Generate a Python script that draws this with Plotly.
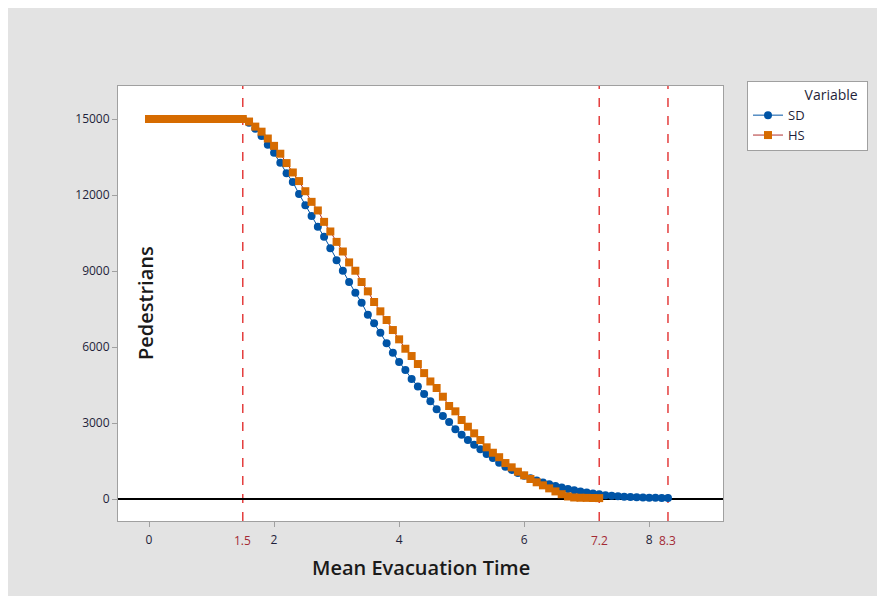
import plotly.graph_objects as go

# ---- data ----
times = [0.0, 0.1, 0.2, 0.3, 0.4, 0.5, 0.6, 0.7, 0.8, 0.9,
         1.0, 1.1, 1.2, 1.3, 1.4, 1.5, 1.6, 1.7, 1.8, 1.9,
         2.0, 2.1, 2.2, 2.3, 2.4, 2.5, 2.6, 2.7, 2.8, 2.9,
         3.0, 3.1, 3.2, 3.3, 3.4, 3.5, 3.6, 3.7, 3.8, 3.9,
         4.0, 4.1, 4.2, 4.3, 4.4, 4.5, 4.6, 4.7, 4.8, 4.9,
         5.0, 5.1, 5.2, 5.3, 5.4, 5.5, 5.6, 5.7, 5.8, 5.9,
         6.0, 6.1, 6.2, 6.3, 6.4, 6.5, 6.6, 6.7, 6.8, 6.9,
         7.0, 7.1, 7.2, 7.3, 7.4, 7.5, 7.6, 7.7, 7.8, 7.9,
         8.0, 8.1, 8.2, 8.3]

sd_values = [15000, 15000, 15000, 15000, 15000, 15000, 15000, 15000, 15000, 15000,
             15000, 15000, 15000, 15000, 15000, 15000, 14850, 14620, 14330, 13985,
             13669, 13274, 12855, 12512, 12038, 11592, 11170, 10748, 10353, 9900,
             9420, 9010, 8565, 8143, 7748, 7275, 6934, 6564, 6145, 5775,
             5407, 5092, 4735, 4445, 4144, 3856, 3540, 3276, 3039, 2751,
             2538, 2329, 2143, 1962, 1776, 1618, 1433, 1275, 1150, 1030,
             920, 820, 730, 650, 580, 510, 450, 395, 345, 300,
             260, 220, 185, 150, 125, 105, 90, 75, 65, 55,
             50, 45, 40, 35]

hs_values = [15000, 15000, 15000, 15000, 15000, 15000, 15000, 15000, 15000, 15000,
             15000, 15000, 15000, 15000, 15000, 15000, 14900, 14700, 14500, 14230,
             13940, 13630, 13260, 12890, 12550, 12150, 11730, 11390, 10940, 10560,
             10150, 9770, 9340, 9011, 8565, 8198, 7776, 7408, 7065, 6670,
             6303, 5932, 5644, 5328, 4970, 4640, 4381, 4038, 3671, 3461,
             3118, 2854, 2593, 2329, 2041, 1827, 1650, 1420, 1251, 1078,
             935, 790, 660, 540, 420, 300, 190, 100, 60, 50,
             45, 40, 35]
hs_times = times[:len(hs_values)]

x_ticks = [0, 2, 4, 6, 8]
x_tick_labels = ["0", "2", "4", "6", "8"]
y_ticks = [0, 3000, 6000, 9000, 12000, 15000]
y_tick_labels = ["0", "3000", "6000", "9000", "12000", "15000"]
ref_lines = [1.5, 7.2, 8.3]
ref_labels = ["1.5", "7.2", "8.3"]

# ---- layout constants (figure pixels; the page adds an 8px body margin) ----
W, H = 877, 588
L, R, T, B = 110, 715, 78, 513
pw, ph = R - L, B - T


def px_x(p):
    return (p - L) / pw


def px_y(p):
    return (B - p) / ph


FONT = "Open Sans"
TICK_COLOR = "#1f1f3a"
RED_LABEL = "#a32a35"

fig = go.Figure()
fig.add_trace(go.Scatter(
    x=times, y=sd_values, name="SD", mode="lines+markers",
    line=dict(color="#0054a6", width=1),
    marker=dict(symbol="circle", size=8, color="#0054a6"),
))
fig.add_trace(go.Scatter(
    x=hs_times, y=hs_values, name="HS", mode="lines+markers",
    line=dict(color="#b03030", width=1),
    marker=dict(symbol="square", size=8, color="#d66b00"),
))

shapes = []
for v in ref_lines:
    shapes.append(dict(type="line", xref="x", yref="paper", x0=v, x1=v, y0=0, y1=1,
                       line=dict(color="#e02020", width=1.3, dash="dash"), layer="below"))

annotations = []
for v, t in zip(ref_lines, ref_labels):
    annotations.append(dict(x=v, xref="x", y=px_y(532), yref="paper", text=t,
                            showarrow=False, yanchor="middle", xanchor="center",
                            font=dict(family=FONT, size=12, color=RED_LABEL)))
annotations.append(dict(x=0.5, xref="paper", y=px_y(559), yref="paper",
                        text="Mean Evacuation Time", showarrow=False,
                        xanchor="center", yanchor="middle",
                        font=dict(family=FONT, size=20, color="#1a1a1a", weight=600)))
annotations.append(dict(x=px_x(137), xref="paper", y=px_y(295), yref="paper",
                        text="Pedestrians", showarrow=False, textangle=-90,
                        xanchor="center", yanchor="middle",
                        font=dict(family=FONT, size=20, color="#1a1a1a", weight=600)))

axis_common = dict(showgrid=False, ticks="outside", ticklen=5, tickcolor="#a0a0a0",
                   showline=True, mirror=True, linecolor="#a0a0a0", linewidth=1,
                   tickfont=dict(family=FONT, size=12, color=TICK_COLOR))

fig.update_layout(
    width=W, height=H,
    margin=dict(l=L, r=W - R, t=T, b=H - B, autoexpand=False),
    paper_bgcolor="#e3e3e3", plot_bgcolor="white",
    xaxis=dict(range=[-0.496, 9.18], tickvals=x_ticks, ticktext=x_tick_labels,
               zeroline=False, ticklabelstandoff=3, **axis_common),
    yaxis=dict(range=[-868, 16303], tickvals=y_ticks, ticktext=y_tick_labels,
               zeroline=True, zerolinecolor="black", zerolinewidth=1.5,
               ticklabelstandoff=0, **axis_common),
    shapes=shapes,
    annotations=annotations,
    showlegend=True,
    legend=dict(x=px_x(739), y=px_y(73), xanchor="left", yanchor="top",
                bgcolor="white", bordercolor="#a0a0a0", borderwidth=1,
                font=dict(family=FONT, size=13, color=TICK_COLOR),
                title=dict(text="&nbsp;" * 15 + "Variable" + "&nbsp;" * 2,
                           font=dict(family=FONT, size=14, color=TICK_COLOR)),
                tracegroupgap=0),
)

fig.write_html("out.html")
